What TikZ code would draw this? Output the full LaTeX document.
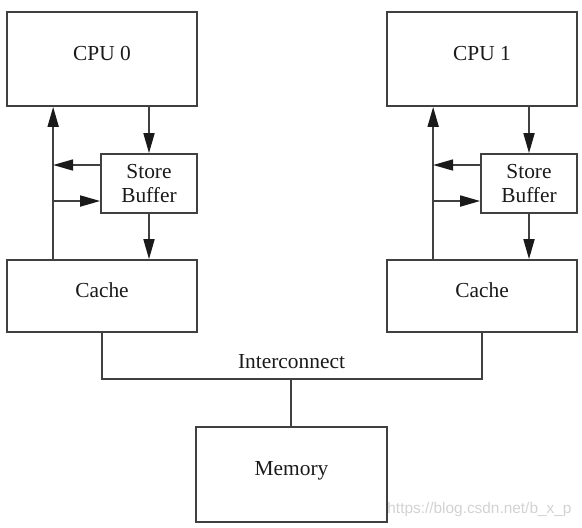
\documentclass[tikz,border=0pt]{standalone}
\usepackage{fontspec}
\setmainfont{Liberation Serif}
\newfontfamily\wmfont{Liberation Sans}
\usetikzlibrary{arrows.meta}
\definecolor{ln}{HTML}{404040}
\definecolor{tx}{HTML}{1A1A1A}
\tikzset{
  box/.style={draw=ln, line width=0.85pt, rectangle, inner sep=0pt, text=tx,
    font=\fontsize{10.7}{11.8}\selectfont},
  onebox/.style={box, text height=7pt, text depth=6pt},
  sbbox/.style={box, align=center, minimum width=48pt, minimum height=29.5pt},
  wire/.style={draw=ln, line width=0.85pt},
  arr/.style={wire, -{Triangle[length=10pt,width=5.5pt,color=tx]}},
  lbl/.style={text=tx, font=\fontsize{10.7}{11.8}\selectfont, inner sep=0pt},
  wm/.style={text=gray!35, font=\wmfont\fontsize{7.7}{8}\selectfont, inner sep=0pt}
}
\begin{document}
\begin{tikzpicture}[x=0.5pt,y=-0.5pt]
\useasboundingbox (0,0) rectangle (582,527);
% CPU 0 side
\node[onebox, minimum width=95pt, minimum height=47pt] (cpu0) at (102,59) {CPU 0};
\node[sbbox] (sb0) at (149,183.5) {Store\\Buffer};
\node[onebox, minimum width=95pt, minimum height=36pt] (cache0) at (102,296) {Cache};
% CPU 1 side
\node[onebox, minimum width=95pt, minimum height=47pt] (cpu1) at (482,59) {CPU 1};
\node[sbbox] (sb1) at (529,183.5) {Store\\Buffer};
\node[onebox, minimum width=95pt, minimum height=36pt] (cache1) at (482,296) {Cache};
% Memory
\node[onebox, minimum width=95.5pt, minimum height=47.5pt] (mem) at (291.5,474.5) {Memory};
\node[lbl, anchor=base] (icl) at (291.5,368) {Interconnect};
\node[wm, anchor=west] (wmk) at (387,509) {https://blog.csdn.net/b\_x\_p};

% arrows, side 0
\coordinate (u0) at ([xshift=23.5pt]cache0.north west);
\coordinate (sbL0) at ([yshift=9.25pt]sb0.west);
\coordinate (sbR0) at ([yshift=-8.75pt]sb0.west);
\draw[arr] (u0) -- (u0 |- cpu0.south);
\draw[arr] (sbL0) -- (sbL0 -| u0);
\draw[arr] (sbR0 -| u0) -- (sbR0);
\draw[arr] (cpu0.south -| sb0.north) -- (sb0.north);
\draw[arr] (sb0.south) -- (cache0.north -| sb0.south);

% arrows, side 1
\coordinate (u1) at ([xshift=23.5pt]cache1.north west);
\coordinate (sbL1) at ([yshift=9.25pt]sb1.west);
\coordinate (sbR1) at ([yshift=-8.75pt]sb1.west);
\draw[arr] (u1) -- (u1 |- cpu1.south);
\draw[arr] (sbL1) -- (sbL1 -| u1);
\draw[arr] (sbR1 -| u1) -- (sbR1);
\draw[arr] (cpu1.south -| sb1.north) -- (sb1.north);
\draw[arr] (sb1.south) -- (cache1.north -| sb1.south);

% interconnect
\coordinate (ic) at (291,379);
\draw[wire] (cache0.south) |- (ic) -| (cache1.south);
\draw[wire] (ic) -- (ic |- mem.north);
\end{tikzpicture}
\end{document}
